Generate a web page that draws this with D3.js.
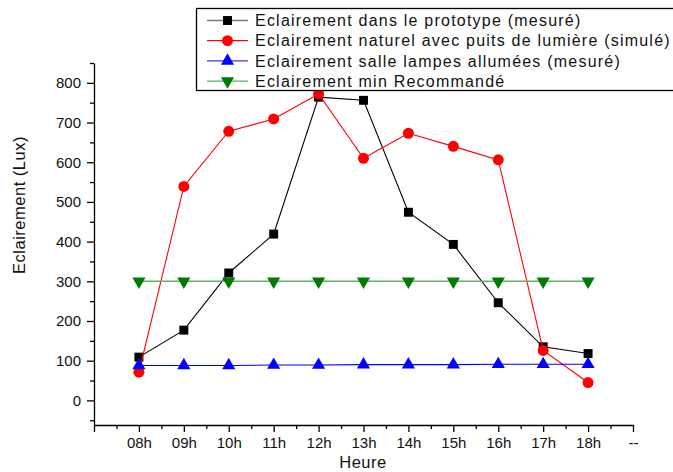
<!DOCTYPE html>
<meta charset='utf-8'>
<style>
    html, body {
        margin: 0;
        background: white;
    }

    .axis line, .axis path {
        stroke: black;
        stroke-width: 1.3;
    }

    .axis text {
        fill: #111;
        font-size: 15px;
        font-family: 'Liberation Sans', Arial, sans-serif;
    }

    .title {
        font-size: 16.5px;
        letter-spacing: 0.5px;
        font-family: 'Liberation Sans', Arial, sans-serif;
        fill: #111;
    }

    .legend text {
        font-size: 16px;
        letter-spacing: 1.22px;
        font-family: 'Liberation Sans', Arial, sans-serif;
        fill: #111;
    }
</style>
<title>Eclairement</title>
<body>

<script src='https://d3js.org/d3.v7.min.js'></script>
<script>

	let hours = ['08h', '09h', '10h', '11h', '12h', '13h', '14h', '15h', '16h', '17h', '18h'];
	let tickLabels = [''].concat(hours).concat(['--']);

	let prototype = [109, 177, 321, 419, 764, 756, 474, 393, 246, 135, 118];
	let naturel   = [71, 539, 678, 709, 772, 610, 673, 640, 606, 126, 45];
	let lampes    = [88, 88, 88, 89, 89, 90, 90, 90, 91, 91, 91];
	let minRecom  = [300, 300, 300, 300, 300, 300, 300, 300, 300, 300, 300];

	let yTicks = [0, 100, 200, 300, 400, 500, 600, 700, 800];

	let series = [
		{name: 'Eclairement dans le prototype (mesuré)', values: prototype, line: 'black', fill: 'black', sym: d3.symbolSquare, size: 80, legendLine: '#777'},
		{name: 'Eclairement naturel avec puits de lumière (simulé)', values: naturel, line: 'red', fill: 'red', sym: d3.symbolCircle, size: 95, legendLine: 'red'},
		{name: 'Eclairement salle lampes allumées (mesuré)', values: lampes, line: 'blue', fill: 'blue', sym: d3.symbolTriangle, size: 75, legendLine: '#3a3aff'},
		{name: 'Eclairement min Recommandé', values: minRecom, line: '#5fb35f', fill: '#007a00', sym: d3.symbolTriangle, size: 75, flip: true, legendLine: '#5fb35f'}
	];

	let width = 673, height = 472;

	let svg = d3.select('body').append('svg')
		.attr('width', width)
		.attr('height', height);

	let x = d3.scaleLinear()
		.domain([0, tickLabels.length - 1])
		.range([94, 633]);

	let y = d3.scaleLinear()
		.domain([-62, 850])
		.range([425, 63]);

	// minor ticks first, then major ones with labels
	svg.append('g')
		.attr('class', 'axis')
		.attr('transform', 'translate(0,425)')
		.call(d3.axisBottom(x).tickValues(d3.range(0.5, 12, 1)).tickSize(4).tickFormat(''))
		.select('.domain').remove();

	svg.append('g')
		.attr('class', 'axis')
		.attr('transform', 'translate(0,425)')
		.call(d3.axisBottom(x)
			.tickValues(d3.range(0, tickLabels.length))
			.tickSize(7)
			.tickPadding(5)
			.tickSizeOuter(0)
			.tickFormat(function (i) { return tickLabels[i]; }));

	svg.append('g')
		.attr('class', 'axis')
		.attr('transform', 'translate(94,0)')
		.call(d3.axisLeft(y).tickValues(d3.range(-50, 851, 100)).tickSize(4).tickFormat(''))
		.select('.domain').remove();

	svg.append('g')
		.attr('class', 'axis')
		.attr('transform', 'translate(94,0)')
		.call(d3.axisLeft(y)
			.tickValues(yTicks)
			.tickSize(7)
			.tickPadding(6)
			.tickSizeOuter(0));

	let line = d3.line()
		.x(function (d, i) { return x(i + 1); })
		.y(function (d) { return y(d); });

	series.forEach(function (s) {
		let g = svg.append('g');
		g.append('path')
			.attr('d', line(s.values))
			.attr('fill', 'none')
			.attr('stroke', s.line)
			.attr('stroke-width', s.line === '#5fb35f' ? 1.6 : 1.1);
		g.selectAll('path.pt')
			.data(s.values)
			.enter().append('path')
			.attr('class', 'pt')
			.attr('d', d3.symbol().type(s.sym).size(s.size))
			.attr('fill', s.fill)
			.attr('transform', function (d, i) {
				return 'translate(' + x(i + 1) + ',' + y(d) + ')' + (s.flip ? ' rotate(180)' : '');
			});
	});

	// legend
	let legend = svg.append('g').attr('class', 'legend');
	legend.append('rect')
		.attr('x', 196.5)
		.attr('y', 8.5)
		.attr('width', 520)
		.attr('height', 82)
		.attr('fill', 'white')
		.attr('stroke', 'black')
		.attr('stroke-width', 1.3);

	series.forEach(function (s, i) {
		let cy = 20.5 + i * 20.2;
		legend.append('line')
			.attr('x1', 207).attr('x2', 248)
			.attr('y1', cy).attr('y2', cy)
			.attr('stroke', s.legendLine)
			.attr('stroke-width', 1.3);
		legend.append('path')
			.attr('d', d3.symbol().type(s.sym).size(s.size))
			.attr('fill', s.fill)
			.attr('transform', 'translate(227.5,' + cy + ')' + (s.flip ? ' rotate(180)' : ''));
		legend.append('text')
			.attr('x', 255)
			.attr('y', cy)
			.attr('dy', '0.36em')
			.text(s.name);
	});

	svg.append('text')
		.attr('class', 'title')
		.attr('text-anchor', 'middle')
		.attr('x', 363)
		.attr('y', 468)
		.text('Heure');

	svg.append('text')
		.attr('class', 'title')
		.attr('text-anchor', 'middle')
		.attr('transform', 'translate(25,205) rotate(-90)')
		.text('Eclairement (Lux)');

</script>
</body>
